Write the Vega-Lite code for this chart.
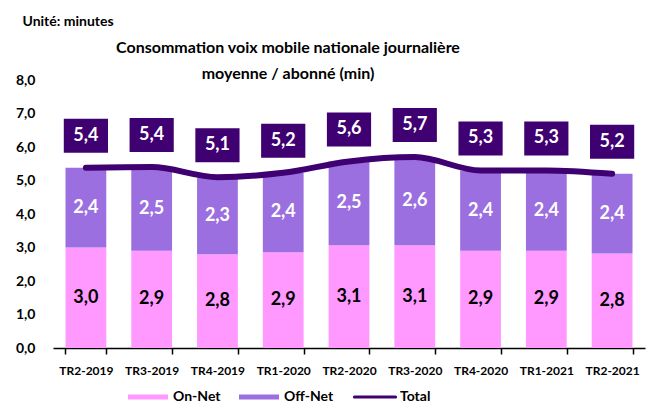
{
  "$schema": "https://vega.github.io/schema/vega-lite/v6.json",
  "width": 592,
  "height": 268,
  "autosize": {"type": "none"},
  "padding": {"left": 53, "top": 80, "right": 2, "bottom": 55},
  "background": "white",
  "config": {
    "font": "Lato",
    "view": {"stroke": null},
    "locale": {"number": {"decimal": ",", "thousands": " ", "grouping": [3], "currency": ["", " €"]}},
    "axisY": {
      "titleAngle": 0,
      "titleAlign": "left",
      "titleBaseline": "middle",
      "titleX": -31,
      "titleY": -59,
      "titleFontSize": 14,
      "titleFontWeight": "bold",
      "titleColor": "black",
      "labelOverlap": false,
      "labelFontSize": 14,
      "labelFontWeight": "bold",
      "labelColor": "black",
      "labelPadding": 18,
      "domain": false,
      "ticks": false,
      "grid": false
    }
  },
  "title": {
    "text": ["Consommation voix mobile  nationale journalière", "moyenne / abonné (min)"],
    "fontSize": 16,
    "fontWeight": "bold",
    "font": "Lato",
    "color": "black",
    "lineHeight": 26,
    "anchor": "middle",
    "dx": -61,
    "offset": -68
  },
  "datasets": {
    "parts": [
      {"quarter": "TR2-2019", "type": "On-Net", "order": 1, "value": 3.0},
      {"quarter": "TR2-2019", "type": "Off-Net", "order": 2, "value": 2.38},
      {"quarter": "TR3-2019", "type": "On-Net", "order": 1, "value": 2.9},
      {"quarter": "TR3-2019", "type": "Off-Net", "order": 2, "value": 2.5},
      {"quarter": "TR4-2019", "type": "On-Net", "order": 1, "value": 2.8},
      {"quarter": "TR4-2019", "type": "Off-Net", "order": 2, "value": 2.3},
      {"quarter": "TR1-2020", "type": "On-Net", "order": 1, "value": 2.86},
      {"quarter": "TR1-2020", "type": "Off-Net", "order": 2, "value": 2.37},
      {"quarter": "TR2-2020", "type": "On-Net", "order": 1, "value": 3.07},
      {"quarter": "TR2-2020", "type": "Off-Net", "order": 2, "value": 2.5},
      {"quarter": "TR3-2020", "type": "On-Net", "order": 1, "value": 3.07},
      {"quarter": "TR3-2020", "type": "Off-Net", "order": 2, "value": 2.63},
      {"quarter": "TR4-2020", "type": "On-Net", "order": 1, "value": 2.9},
      {"quarter": "TR4-2020", "type": "Off-Net", "order": 2, "value": 2.4},
      {"quarter": "TR1-2021", "type": "On-Net", "order": 1, "value": 2.9},
      {"quarter": "TR1-2021", "type": "Off-Net", "order": 2, "value": 2.4},
      {"quarter": "TR2-2021", "type": "On-Net", "order": 1, "value": 2.82},
      {"quarter": "TR2-2021", "type": "Off-Net", "order": 2, "value": 2.38}
    ],
    "totals": [
      {"quarter": "TR2-2019", "total": 5.38},
      {"quarter": "TR3-2019", "total": 5.4},
      {"quarter": "TR4-2019", "total": 5.1},
      {"quarter": "TR1-2020", "total": 5.23},
      {"quarter": "TR2-2020", "total": 5.57},
      {"quarter": "TR3-2020", "total": 5.7},
      {"quarter": "TR4-2020", "total": 5.3},
      {"quarter": "TR1-2021", "total": 5.3},
      {"quarter": "TR2-2021", "total": 5.2}
    ]
  },
  "encoding": {
    "x": {
      "field": "quarter",
      "type": "nominal",
      "sort": null,
      "scale": {"paddingInner": 0.38, "paddingOuter": 0.19},
      "axis": {
        "title": null,
        "labelAngle": 0,
        "labelFontSize": 12,
        "labelFontWeight": "bold",
        "labelColor": "black",
        "labelPadding": 11,
        "domainColor": "black",
        "domainWidth": 1.5,
        "tickColor": "black",
        "tickWidth": 1.5,
        "tickSize": 6,
        "tickBand": "extent"
      }
    }
  },
  "layer": [
    {
      "data": {"name": "parts"},
      "mark": {"type": "bar"},
      "encoding": {
        "y": {
          "field": "value",
          "type": "quantitative",
          "stack": "zero",
          "scale": {"domain": [0, 8], "nice": false},
          "axis": {"title": "Unité: minutes", "values": [0, 1, 2, 3, 4, 5, 6, 7, 8], "format": ".1f"}
        },
        "order": {"field": "order", "type": "quantitative"},
        "color": {
          "field": "type",
          "type": "nominal",
          "scale": {"domain": ["On-Net", "Off-Net", "Total"], "range": ["#FF99FF", "#9C6FE0", "#3F0071"]},
          "legend": {
            "title": null,
            "orient": "none",
            "direction": "horizontal",
            "legendX": 75,
            "legendY": 297,
            "symbolSize": 1600,
            "labelOffset": 5,
            "columnPadding": 18,
            "labelFontSize": 14,
            "labelFontWeight": "bold",
            "labelColor": "black",
            "symbolStrokeWidth": 0,
            "encode": {
              "symbols": {
                "update": {
                  "shape": {"signal": "datum.value === 'Total' ? 'M-1.025,-0.08L1.025,-0.08A0.08,0.08 0 0 1 1.025,0.08L-1.025,0.08A0.08,0.08 0 0 1 -1.025,-0.08Z' : 'M-1,-0.125L1,-0.125L1,0.125L-1,0.125Z'"},
                  "opacity": {"value": 1}
                }
              }
            }
          }
        }
      }
    },
    {
      "data": {"name": "parts"},
      "transform": [
        {"stack": "value", "groupby": ["quarter"], "sort": [{"field": "order"}], "as": ["v0", "v1"]},
        {"calculate": "(datum.v0 + datum.v1) / 2", "as": "mid"}
      ],
      "mark": {"type": "text", "fontSize": 18, "fontWeight": "bold", "baseline": "middle"},
      "encoding": {
        "y": {"field": "mid", "type": "quantitative", "axis": {"title": "Unité: minutes", "values": [0, 1, 2, 3, 4, 5, 6, 7, 8], "format": ".1f"}},
        "text": {"field": "value", "type": "quantitative", "format": ".1f"},
        "fill": {
          "condition": {"test": "datum.type === 'On-Net'", "value": "black"},
          "value": "white"
        }
      }
    },
    {
      "data": {"name": "totals"},
      "mark": {"type": "line", "color": "#3F0071", "strokeWidth": 6, "strokeCap": "round", "interpolate": "monotone"},
      "encoding": {
        "y": {"field": "total", "type": "quantitative", "axis": {"title": "Unité: minutes", "values": [0, 1, 2, 3, 4, 5, 6, 7, 8], "format": ".1f"}}
      }
    },
    {
      "data": {"name": "totals"},
      "mark": {
        "type": "point",
        "shape": "M-1.3,-1L1.3,-1L1.3,1L-1.3,1Z",
        "size": 1156,
        "filled": true,
        "opacity": 1,
        "color": "#3F0071",
        "yOffset": -32
      },
      "encoding": {
        "y": {"field": "total", "type": "quantitative", "axis": {"title": "Unité: minutes", "values": [0, 1, 2, 3, 4, 5, 6, 7, 8], "format": ".1f"}}
      }
    },
    {
      "data": {"name": "totals"},
      "mark": {"type": "text", "fontSize": 18, "fontWeight": "bold", "color": "white", "baseline": "middle", "yOffset": -32},
      "encoding": {
        "y": {"field": "total", "type": "quantitative", "axis": {"title": "Unité: minutes", "values": [0, 1, 2, 3, 4, 5, 6, 7, 8], "format": ".1f"}},
        "text": {"field": "total", "type": "quantitative", "format": ".1f"}
      }
    }
  ]
}
